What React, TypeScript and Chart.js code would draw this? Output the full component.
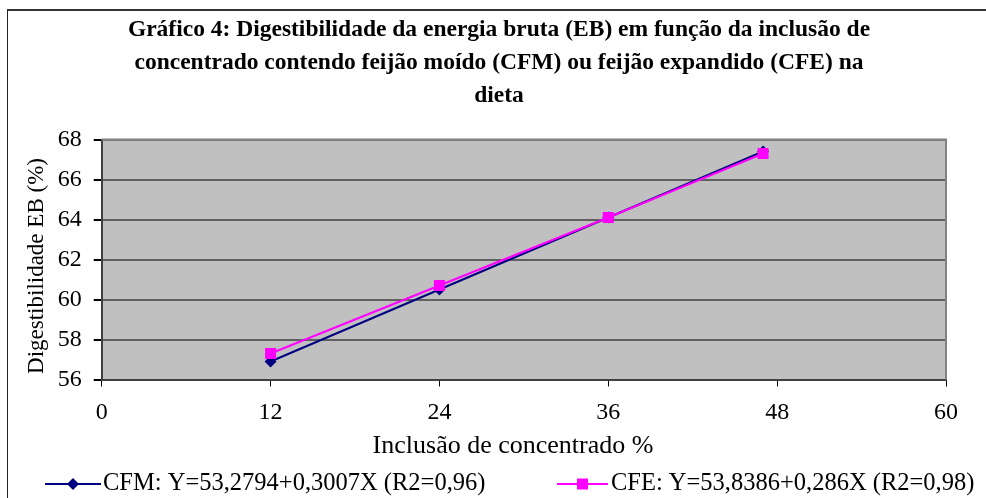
import React, { useEffect, useRef } from 'react';
import { Chart, registerables } from 'chart.js';

Chart.register(...registerables);

const TITLE_LINES = [
  'Gráfico 4: Digestibilidade da energia bruta (EB) em função da inclusão de',
  'concentrado contendo feijão moído (CFM) ou feijão expandido (CFE) na',
  'dieta',
];
const X_VALUES = [12, 24, 36, 47];
const CFM_VALUES = [56.9, 60.5, 64.1, 67.4];
const CFE_VALUES = [57.3, 60.7, 64.1, 67.3];
const CFM_LABEL = 'CFM: Y=53,2794+0,3007X (R2=0,96)';
const CFE_LABEL = 'CFE: Y=53,8386+0,286X (R2=0,98)';
const X_TITLE = 'Inclusão de concentrado %';
const Y_TITLE = 'Digestibilidade EB (%)';
const X_MIN = 0;
const X_MAX = 60;
const X_STEP = 12;
const Y_MIN = 56;
const Y_MAX = 68;
const Y_STEP = 2;

const FONT = '"Liberation Serif", "Times New Roman", serif';
const CFM_COLOR = '#000080';
const CFE_COLOR = '#FF00FF';

const plotBg = {
  id: 'plotBg',
  beforeDraw(chart: any) {
    const { ctx, chartArea: a } = chart;
    ctx.save();
    ctx.fillStyle = '#C0C0C0';
    ctx.fillRect(a.left, a.top, a.right - a.left, a.bottom - a.top);
    ctx.restore();
  },
  beforeDatasetsDraw(chart: any) {
    const { ctx, chartArea: a } = chart;
    ctx.save();
    ctx.strokeStyle = '#808080';
    ctx.lineWidth = 2;
    ctx.beginPath();
    ctx.moveTo(a.left, a.top);
    ctx.lineTo(a.right, a.top);
    ctx.lineTo(a.right, a.bottom);
    ctx.stroke();
    ctx.restore();
  },
};

const titles = {
  id: 'titles',
  afterDraw(chart: any) {
    const { ctx } = chart;
    ctx.save();
    ctx.fillStyle = '#000';
    ctx.textAlign = 'center';
    ctx.textBaseline = 'middle';
    ctx.font = `bold 23.5px ${FONT}`;
    TITLE_LINES.forEach((line, i) => ctx.fillText(line, 499, 30 + i * 33));
    ctx.font = `26px ${FONT}`;
    ctx.fillText(X_TITLE, 513, 446);
    ctx.translate(37, 266);
    ctx.rotate(-Math.PI / 2);
    ctx.font = `23px ${FONT}`;
    ctx.fillText(Y_TITLE, 0, 0);
    ctx.restore();
  },
};

const customLegend = {
  id: 'customLegend',
  afterDraw(chart: any) {
    const { ctx } = chart;
    const y = 484;
    const items = [
      { x0: 45, x1: 101, tx: 103, ds: chart.data.datasets[0] },
      { x0: 557, x1: 608, tx: 611, ds: chart.data.datasets[1] },
    ];
    ctx.save();
    items.forEach((it) => {
      const c = it.ds.borderColor;
      ctx.strokeStyle = c;
      ctx.lineWidth = 2;
      ctx.beginPath();
      ctx.moveTo(it.x0, y);
      ctx.lineTo(it.x1, y);
      ctx.stroke();
      ctx.fillStyle = c;
      const cx = (it.x0 + it.x1) / 2;
      if (it.ds.pointStyle === 'rectRot') {
        ctx.beginPath();
        ctx.moveTo(cx - 6, y);
        ctx.lineTo(cx, y - 6);
        ctx.lineTo(cx + 6, y);
        ctx.lineTo(cx, y + 6);
        ctx.closePath();
        ctx.fill();
      } else {
        ctx.fillRect(cx - 5.5, y - 5.5, 11, 11);
      }
      ctx.fillStyle = '#000';
      ctx.font = `24.5px ${FONT}`;
      ctx.textBaseline = 'middle';
      ctx.textAlign = 'left';
      ctx.fillText(it.ds.label, it.tx, y);
    });
    ctx.restore();
  },
};

export default function App() {
  const ref = useRef<HTMLCanvasElement | null>(null);

  useEffect(() => {
    if (!ref.current) return;
    const chart = new Chart(ref.current, {
      type: 'scatter',
      data: {
        datasets: [
          {
            label: CFM_LABEL,
            data: X_VALUES.map((x, i) => ({ x, y: CFM_VALUES[i] })),
            showLine: true,
            borderColor: CFM_COLOR,
            backgroundColor: CFM_COLOR,
            borderWidth: 2,
            pointStyle: 'rectRot',
            pointRadius: 6,
            pointBorderWidth: 0,
            order: 2,
          },
          {
            label: CFE_LABEL,
            data: X_VALUES.map((x, i) => ({ x, y: CFE_VALUES[i] })),
            showLine: true,
            borderColor: CFE_COLOR,
            backgroundColor: CFE_COLOR,
            borderWidth: 2,
            pointStyle: 'rect',
            pointRadius: 7.8,
            pointBorderWidth: 0,
            order: 1,
          },
        ],
      },
      options: {
        responsive: false,
        animation: false,
        layout: { padding: { left: 0, right: 40, top: 139.5, bottom: 35 } },
        plugins: {
          legend: { display: false },
          tooltip: { enabled: false },
          title: { display: false },
        },
        scales: {
          x: {
            type: 'linear',
            min: X_MIN,
            max: X_MAX,
            afterFit: (s: any) => {
              s.height = 83.5;
            },
            ticks: {
              stepSize: X_STEP,
              color: '#000',
              font: { family: FONT, size: 24 },
              padding: 12,
              maxRotation: 0,
            },
            grid: {
              drawOnChartArea: false,
              drawTicks: true,
              tickLength: 7,
              tickColor: '#000',
              color: '#000',
            },
            border: { color: '#404040', width: 2 },
            title: { display: false, text: X_TITLE },
          },
          y: {
            type: 'linear',
            min: Y_MIN,
            max: Y_MAX,
            afterFit: (s: any) => {
              s.width = 101.7;
            },
            ticks: {
              stepSize: Y_STEP,
              color: '#000',
              font: { family: FONT, size: 24 },
              padding: 12,
            },
            grid: {
              drawOnChartArea: true,
              drawTicks: true,
              tickLength: 8,
              tickColor: '#000',
              color: (c: any) => (c.tick && c.tick.value === Y_MAX ? '#808080' : '#606060'),
              lineWidth: 2,
            },
            border: { color: '#404040', width: 2 },
            title: { display: false, text: Y_TITLE },
          },
        },
      },
      plugins: [plotBg, titles, customLegend],
    });
    return () => chart.destroy();
  }, []);

  return (
    <div
      style={{
        position: 'fixed',
        left: 0,
        top: 0,
        width: 986,
        height: 498,
        overflow: 'hidden',
        background: '#fff',
      }}
    >
      <div
        style={{
          position: 'absolute',
          left: 7,
          top: 9,
          width: 1200,
          height: 1000,
          borderTop: '2px solid #333',
          borderLeft: '1px solid #222',
        }}
      />
      <canvas
        ref={ref}
        width={986}
        height={498}
        style={{ position: 'absolute', left: 0, top: 0, width: 986, height: 498 }}
      />
    </div>
  );
}
